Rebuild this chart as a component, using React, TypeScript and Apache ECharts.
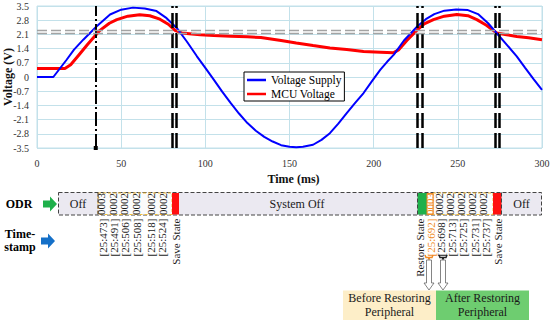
import React, { useEffect, useRef } from "react";
import * as echarts from "echarts";

// ---------- data ----------
const supplyTime = [0, 9.7, 17.6, 22, 27.5, 35.5, 43.4, 50, 57, 64, 71, 77, 83, 89, 95, 100, 105, 110, 115, 120, 125, 130, 135, 140, 145, 150, 154, 158, 164, 169, 174, 179, 184, 189, 194, 199, 204, 208, 212, 218, 226, 231, 236, 242, 249, 256, 262, 268, 273, 279, 285, 290, 295, 300];
const supplyVolt = [0, 0, 0.85, 1.35, 1.84, 2.5, 3.08, 3.32, 3.42, 3.38, 3.25, 2.9, 2.42, 1.75, 1.02, 0.45, -0.13, -0.72, -1.28, -1.8, -2.27, -2.65, -2.95, -3.18, -3.36, -3.44, -3.46, -3.44, -3.34, -3.1, -2.77, -2.3, -1.78, -1.28, -0.79, -0.2, 0.36, 0.75, 1.1, 1.8, 2.5, 2.85, 3.1, 3.27, 3.33, 3.3, 3.1, 2.65, 2.17, 1.6, 1.02, 0.45, -0.1, -0.63];

const mcuTime = [0, 16.6, 20, 25, 30, 37.4, 43, 47.4, 54, 61, 67, 73, 78, 82, 86, 92, 97, 105, 115, 125, 133, 138, 145, 154, 164, 174, 184, 194, 204, 211.7, 215, 219.7, 225.6, 230, 235.5, 242, 249.4, 256, 261.3, 267, 273.1, 279, 285, 292, 300];
const mcuVolt = [0.42, 0.42, 0.6, 1.1, 1.6, 2.3, 2.65, 2.83, 3.0, 3.07, 3.02, 2.85, 2.6, 2.3, 2.17, 2.12, 2.08, 2.04, 2.01, 1.98, 1.95, 1.89, 1.8, 1.68, 1.55, 1.43, 1.35, 1.26, 1.22, 1.19, 1.35, 1.8, 2.3, 2.62, 2.83, 3.0, 3.08, 3.02, 2.83, 2.55, 2.17, 2.08, 2.0, 1.93, 1.84];

const thresholdVolts = [2.3, 2.17];
const startEventTime = [34.9];
const stateEventTimes = [80.6, 82.6, 225.6, 228.6, 272.1, 274.5];

const odrLeftValues = ["0003", "0002", "0002", "0002", "0002", "0002"];
const stampLeftLabels = ["[25:473]", "[25:491]", "[25:506]", "[25:508]", "[25:518]", "[25:524]", "Save State"];
const odrRightValues = ["0003", "0002", "0002", "0002", "0002", "0002"];
const stampRightLabels = ["Restore State", "[25:692]", "[25:698]", "[25:713]", "[25:725]", "[25:731]", "[25:737]", "Save State"];

// ---------- layout (pixels) ----------
const F = "'Liberation Serif', 'Times New Roman', serif";
const odrLeftX = [101, 112.5, 124, 136, 151, 163];
const stampLeftX = [102.5, 113.5, 125, 136.5, 150.5, 161.5, 175.5];
const odrRightX = [430, 438.5, 449.5, 460.5, 471.5, 482.5];
const stampRightX = [419.5, 430.5, 441, 452, 463, 474.5, 486, 498];

function buildGraphic() {
  const g: any[] = [];
  const text = (x: number, y: number, t: string, extra: any = {}, rot = 0) => {
    const s: any = {
      text: t,
      fontFamily: F,
      fontSize: 11,
      fill: "#1a1a1a",
      align: "center",
      verticalAlign: "middle",
      textAlign: "center",
      textVerticalAlign: "middle",
      ...extra,
    };
    if (extra.align) s.textAlign = extra.align;
    if (extra.verticalAlign) s.textVerticalAlign = extra.verticalAlign;
    return { type: "text", x, y, rotation: rot, z: 20, style: s };
  };
  const rect = (x: number, y: number, w: number, h: number, style: any, z = 10) => ({
    type: "rect",
    z,
    shape: { x, y, width: w, height: h },
    style,
  });
  const vdash = (x: number) => ({
    type: "line",
    z: 15,
    shape: { x1: x, y1: 192.5, x2: x, y2: 215 },
    style: { stroke: "#444", lineWidth: 1, lineDash: [4, 2] },
  });

  // Row labels
  g.push(text(19, 204, "ODR", { fontSize: 12, fontWeight: "bold", fill: "#000" }));
  g.push(text(20, 234, "Time-", { fontSize: 12, fontWeight: "bold", fill: "#000" }));
  g.push(text(20, 247, "stamp", { fontSize: 12, fontWeight: "bold", fill: "#000" }));
  // Arrows
  g.push({
    type: "polygon",
    z: 10,
    shape: { points: [[43, 200.5], [50, 200.5], [50, 196.5], [57, 204], [50, 211.5], [50, 207.5], [43, 207.5]] },
    style: { fill: "#1fb04b" },
  });
  g.push({
    type: "polygon",
    z: 10,
    shape: { points: [[41, 237.5], [48, 237.5], [48, 233.5], [55, 241], [48, 248.5], [48, 244.5], [41, 244.5]] },
    style: { fill: "#1570c8" },
  });

  // ODR bar
  g.push(rect(58.5, 192.5, 483, 22.5, { fill: "#ebe9f1", stroke: "#444", lineWidth: 1, lineDash: [4, 2] }, 9));
  g.push(rect(98, 193, 74, 21.5, { fill: "#fbfbfb", stroke: "#f2be3c", lineWidth: 1, lineDash: [3, 2] }, 10));
  g.push(rect(172, 193, 7, 21.5, { fill: "#ff1010" }, 11));
  g.push(rect(417.5, 193, 9.5, 21.5, { fill: "#1fb04b" }, 11));
  g.push(rect(427, 193.5, 6, 21, { fill: "#ffffff", stroke: "#f08a24", lineWidth: 1 }, 11));
  g.push(rect(433, 193, 60, 21.5, { fill: "#fbfbfb", stroke: "#f2be3c", lineWidth: 1, lineDash: [3, 2] }, 10));
  g.push(rect(493, 193, 8.5, 21.5, { fill: "#ff1010" }, 11));
  g.push(vdash(98));
  g.push(vdash(417.5));
  g.push(vdash(501.5));
  g.push(text(78, 204, "Off", { fontSize: 12 }));
  g.push(text(297, 204, "System Off", { fontSize: 12 }));
  g.push(text(521.5, 204, "Off", { fontSize: 12 }));

  odrLeftValues.forEach((v, i) => {
    g.push(text(odrLeftX[i], 204, v, { fontSize: 11 }, Math.PI / 2));
  });
  odrRightValues.forEach((v, i) => {
    g.push(text(odrRightX[i], 204, v, { fontSize: 11, fill: i === 0 ? "#f08a24" : "#1a1a1a" }, Math.PI / 2));
  });

  // Timestamps
  stampLeftLabels.forEach((v, i) => {
    g.push(text(stampLeftX[i], 218.5, v, { fontSize: 11, align: "right", verticalAlign: "middle" }, Math.PI / 2));
  });
  stampRightLabels.forEach((v, i) => {
    g.push(
      text(stampRightX[i], 218.5, v, { fontSize: 11, align: "right", verticalAlign: "middle", fill: i === 1 ? "#f08a24" : "#1a1a1a" }, Math.PI / 2)
    );
  });

  // brackets under restore timestamps
  const brace = (cx: number, color: string) => ({
    type: "polyline",
    z: 12,
    shape: { points: [[cx - 4, 255], [cx - 3, 257.5], [cx - 0.5, 257.5], [cx, 259.5], [cx + 0.5, 257.5], [cx + 3, 257.5], [cx + 4, 255]] },
    style: { stroke: color, lineWidth: 1.5, fill: null },
  });
  g.push(brace(429, "#f08a24"));
  g.push(brace(443, "#222"));

  // hollow arrows
  const hollow = (cx: number) => ({
    type: "polygon",
    z: 12,
    shape: { points: [[cx - 2.5, 260], [cx + 2.5, 260], [cx + 2.5, 283], [cx + 5, 283], [cx, 290], [cx - 5, 283], [cx - 2.5, 283]] },
    style: { fill: "#ffffff", stroke: "#666", lineWidth: 0.8 },
  });
  g.push(hollow(429));
  g.push(hollow(443));

  // bottom boxes
  g.push(rect(343, 290.5, 93, 30, { fill: "#fdeec8" }, 8));
  g.push(rect(436, 290.5, 93, 30, { fill: "#6ecd70" }, 8));
  g.push(text(389.5, 297.5, "Before Restoring", { fontSize: 12 }));
  g.push(text(389.5, 312, "Peripheral", { fontSize: 12 }));
  g.push(text(482.5, 297.5, "After Restoring", { fontSize: 12 }));
  g.push(text(482.5, 312, "Peripheral", { fontSize: 12 }));
  return g;
}

export default function App() {
  const ref = useRef<HTMLDivElement>(null);
  useEffect(() => {
    if (!ref.current) return;
    const chart = echarts.init(ref.current, undefined, { renderer: "svg" });
    const gridColor = "#c3e1ea";
    const markData: any[] = [];
    startEventTime.forEach((t) => {
      markData.push([
        { xAxis: t, yAxis: -3.5, symbol: "rect", symbolSize: 4, lineStyle: { color: "#000", width: 2, type: [14, 3, 2, 3] } },
        { xAxis: t, yAxis: 3.5, symbol: "none" },
      ]);
    });
    stateEventTimes.forEach((t) => {
      markData.push({ xAxis: t, lineStyle: { color: "#000", width: 2.5, type: [15, 5] } });
    });
    thresholdVolts.forEach((v) => {
      markData.push({ yAxis: v, lineStyle: { color: "#a3a3a3", width: 1.3, type: [10, 4] } });
    });

    const option: any = {
      animation: false,
      grid: {
        left: 37,
        right: 8,
        top: 6,
        bottom: 172,
        show: true,
        borderColor: gridColor,
        borderWidth: 1,
        containLabel: false,
        outerBoundsMode: "none",
      },
      xAxis: {
        type: "value",
        min: 0,
        max: 300,
        interval: 50,
        axisLine: { show: false },
        axisTick: { show: false },
        splitLine: { lineStyle: { color: gridColor, width: 1 } },
        axisLabel: { fontFamily: F, fontSize: 10, color: "#333", margin: 10 },
        name: "Time (ms)",
        nameLocation: "middle",
        nameGap: 25,
        nameMoveOverlap: false,
        nameTextStyle: { fontFamily: F, fontSize: 12, fontWeight: "bold", color: "#111", padding: [0, 0, 0, 8] },
      },
      yAxis: {
        type: "value",
        min: -3.5,
        max: 3.5,
        interval: 0.7,
        axisLine: { show: false },
        axisTick: { show: false },
        splitLine: { lineStyle: { color: gridColor, width: 1 } },
        axisLabel: {
          fontFamily: F,
          fontSize: 10,
          color: "#333",
          margin: 8,
          formatter: (v: number) => (Math.abs(v) < 1e-6 ? "0" : v.toFixed(1)),
        },
        name: "Voltage (V)",
        nameLocation: "middle",
        nameGap: 23,
        nameMoveOverlap: false,
        nameTextStyle: { fontFamily: F, fontSize: 12, fontWeight: "bold", color: "#111" },
      },
      legend: {
        data: [
          { name: "Voltage Supply", icon: "rect" },
          { name: "MCU Voltage", icon: "rect" },
        ],
        orient: "vertical",
        left: 244,
        top: 72,
        itemWidth: 19,
        itemHeight: 2.5,
        itemGap: 0,
        padding: [1, 3, 0, 3],
        backgroundColor: "#fff",
        borderColor: "#000",
        borderWidth: 1,
        textStyle: { fontFamily: F, fontSize: 11.5, color: "#000", lineHeight: 14 },
      },
      series: [
        {
          name: "Voltage Supply",
          type: "line",
          symbol: "none",
          z: 4,
          lineStyle: { color: "#0000ff", width: 2 },
          itemStyle: { color: "#0000ff" },
          data: supplyTime.map((t, i) => [t, supplyVolt[i]]),
        },
        {
          name: "MCU Voltage",
          type: "line",
          symbol: "none",
          z: 3,
          lineStyle: { color: "#ff0000", width: 3 },
          itemStyle: { color: "#ff0000" },
          data: mcuTime.map((t, i) => [t, mcuVolt[i]]),
        },
        {
          name: "events",
          type: "line",
          data: [],
          z: 6,
          silent: true,
          markLine: {
            silent: true,
            symbol: ["none", "none"],
            label: { show: false },
            emphasis: { disabled: true },
            data: markData,
          },
        },
      ],
      graphic: buildGraphic(),
    };
    chart.setOption(option);
    return () => chart.dispose();
  }, []);
  return <div ref={ref} style={{ position: "fixed", left: 0, top: 0, width: 550, height: 320, background: "#fff" }} />;
}
